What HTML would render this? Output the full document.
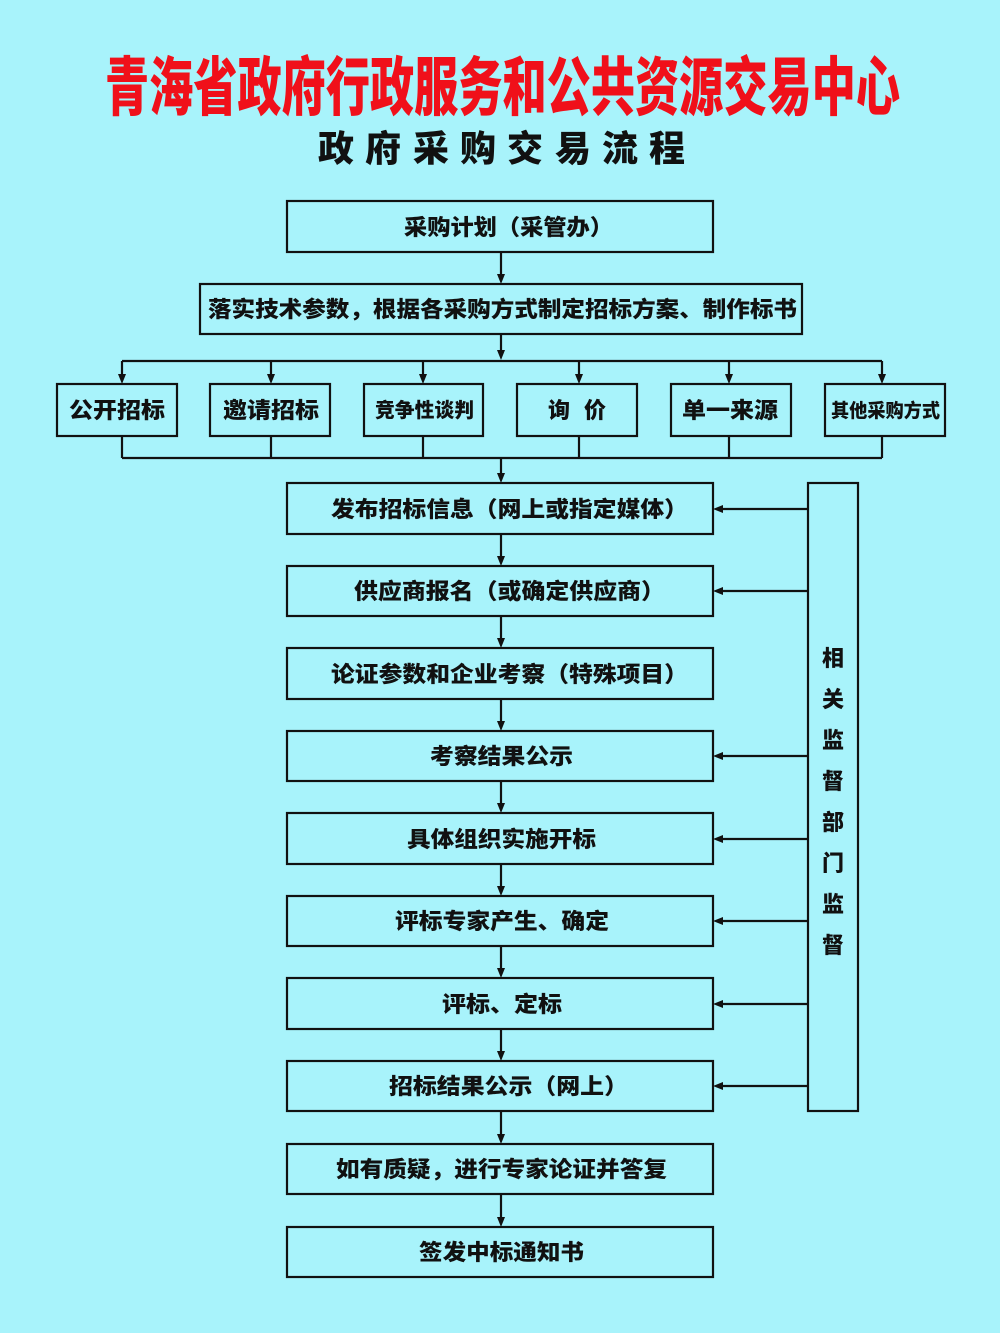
<!DOCTYPE html>
<html><head><meta charset="utf-8">
<style>
html,body{margin:0;padding:0;background:#a8f3fb;}
svg{display:block;}
text{font-family:"Liberation Sans","Noto Sans CJK SC","WenQuanYi Zen Hei",sans-serif;font-weight:900;fill:#111;}
</style></head>
<body>
<svg width="1000" height="1333" viewBox="0 0 1000 1333" xmlns="http://www.w3.org/2000/svg">
<rect x="0" y="0" width="1000" height="1333" fill="#a8f3fb"/>
<!-- Title -->
<text x="105" y="110" font-size="64" style="font-weight:900;fill:#f0101a" textLength="795" lengthAdjust="spacingAndGlyphs">青海省政府行政服务和公共资源交易中心</text>
<g font-size="36" text-anchor="middle" style="font-weight:900">
<text x="336" y="161">政</text><text x="383" y="161">府</text><text x="431" y="161">采</text><text x="478" y="161">购</text>
<text x="525" y="161">交</text><text x="573" y="161">易</text><text x="620" y="161">流</text><text x="667" y="161">程</text>
</g>
<g fill="none" stroke="#111" stroke-width="2.2">
<rect x="287" y="201" width="426" height="51"/>
<rect x="200" y="284" width="602" height="50"/>
<rect x="57" y="384" width="120" height="52"/>
<rect x="210" y="384" width="120" height="52"/>
<rect x="364" y="384" width="119" height="52"/>
<rect x="517" y="384" width="120" height="52"/>
<rect x="671" y="384" width="120" height="52"/>
<rect x="825" y="384" width="120" height="52"/>
<rect x="287" y="483" width="426" height="51"/>
<rect x="287" y="566" width="426" height="50"/>
<rect x="287" y="648" width="426" height="51"/>
<rect x="287" y="731" width="426" height="50"/>
<rect x="287" y="813" width="426" height="51"/>
<rect x="287" y="896" width="426" height="50"/>
<rect x="287" y="978" width="426" height="51"/>
<rect x="287" y="1061" width="426" height="50"/>
<rect x="287" y="1144" width="426" height="50"/>
<rect x="287" y="1227" width="426" height="50"/>
<rect x="808" y="483" width="50" height="628"/>
<!-- connectors -->
<path d="M501 252V276M501 334V352M122 361H882M122 361V376M271 361V376M423 361V376M579 361V376M729 361V376M882 361V376"/>
<path d="M122 436V458M271 436V458M423 436V458M579 436V458M729 436V458M882 436V458M122 458H882M501 458V475"/>
<path d="M501 534V558M501 616V640M501 699V723M501 781V805M501 864V888M501 946V970M501 1029V1053M501 1111V1136M501 1194V1219"/>
<path d="M808 509H721M808 591H721M808 756H721M808 839H721M808 921H721M808 1004H721M808 1086H721"/>
</g>
<g fill="#111">
<polygon points="497,274 505,274 501,284"/>
<polygon points="497,350 505,350 501,360"/>
<polygon points="118,374 126,374 122,384"/>
<polygon points="267,374 275,374 271,384"/>
<polygon points="419,374 427,374 423,384"/>
<polygon points="575,374 583,374 579,384"/>
<polygon points="725,374 733,374 729,384"/>
<polygon points="878,374 886,374 882,384"/>
<polygon points="497,473 505,473 501,483"/>
<polygon points="497,556 505,556 501,566"/>
<polygon points="497,638 505,638 501,648"/>
<polygon points="497,721 505,721 501,731"/>
<polygon points="497,803 505,803 501,813"/>
<polygon points="497,886 505,886 501,896"/>
<polygon points="497,968 505,968 501,978"/>
<polygon points="497,1051 505,1051 501,1061"/>
<polygon points="497,1134 505,1134 501,1144"/>
<polygon points="497,1217 505,1217 501,1227"/>
<polygon points="723,505 723,513 713,509"/>
<polygon points="723,587 723,595 713,591"/>
<polygon points="723,752 723,760 713,756"/>
<polygon points="723,835 723,843 713,839"/>
<polygon points="723,917 723,925 713,921"/>
<polygon points="723,1000 723,1008 713,1004"/>
<polygon points="723,1082 723,1090 713,1086"/>
</g>
<!-- box labels -->
<g font-size="22">
<text x="404" y="235" textLength="209" lengthAdjust="spacingAndGlyphs">采购计划（采管办）</text>
<text x="208" y="317" textLength="589" lengthAdjust="spacingAndGlyphs">落实技术参数，根据各采购方式制定招标方案、制作标书</text>
<text x="69" y="418" textLength="96" lengthAdjust="spacingAndGlyphs">公开招标</text>
<text x="223" y="418" textLength="96" lengthAdjust="spacingAndGlyphs">邀请招标</text>
<text x="375" y="417" font-size="20" textLength="99" lengthAdjust="spacingAndGlyphs">竞争性谈判</text>
<text x="548" y="418">询</text><text x="584" y="418">价</text>
<text x="682" y="418" textLength="96" lengthAdjust="spacingAndGlyphs">单一来源</text>
<text x="831" y="417" font-size="19" textLength="109" lengthAdjust="spacingAndGlyphs">其他采购方式</text>
<text x="331" y="517" textLength="357" lengthAdjust="spacingAndGlyphs">发布招标信息（网上或指定媒体）</text>
<text x="354" y="599" textLength="311" lengthAdjust="spacingAndGlyphs">供应商报名（或确定供应商）</text>
<text x="331" y="682" textLength="357" lengthAdjust="spacingAndGlyphs">论证参数和企业考察（特殊项目）</text>
<text x="430" y="764" textLength="143" lengthAdjust="spacingAndGlyphs">考察结果公示</text>
<text x="407" y="847" textLength="189" lengthAdjust="spacingAndGlyphs">具体组织实施开标</text>
<text x="395" y="929" textLength="214" lengthAdjust="spacingAndGlyphs">评标专家产生、确定</text>
<text x="442" y="1012" textLength="120" lengthAdjust="spacingAndGlyphs">评标、定标</text>
<text x="389" y="1094" textLength="239" lengthAdjust="spacingAndGlyphs">招标结果公示（网上）</text>
<text x="336" y="1177" textLength="331" lengthAdjust="spacingAndGlyphs">如有质疑，进行专家论证并答复</text>
<text x="419" y="1260" textLength="165" lengthAdjust="spacingAndGlyphs">签发中标通知书</text>
</g>
<g font-size="22" text-anchor="middle">
<text x="833" y="666">相</text>
<text x="833" y="707">关</text>
<text x="833" y="748">监</text>
<text x="833" y="789">督</text>
<text x="833" y="830">部</text>
<text x="833" y="871">门</text>
<text x="833" y="912">监</text>
<text x="833" y="953">督</text>
</g>
</svg>
</body></html>
